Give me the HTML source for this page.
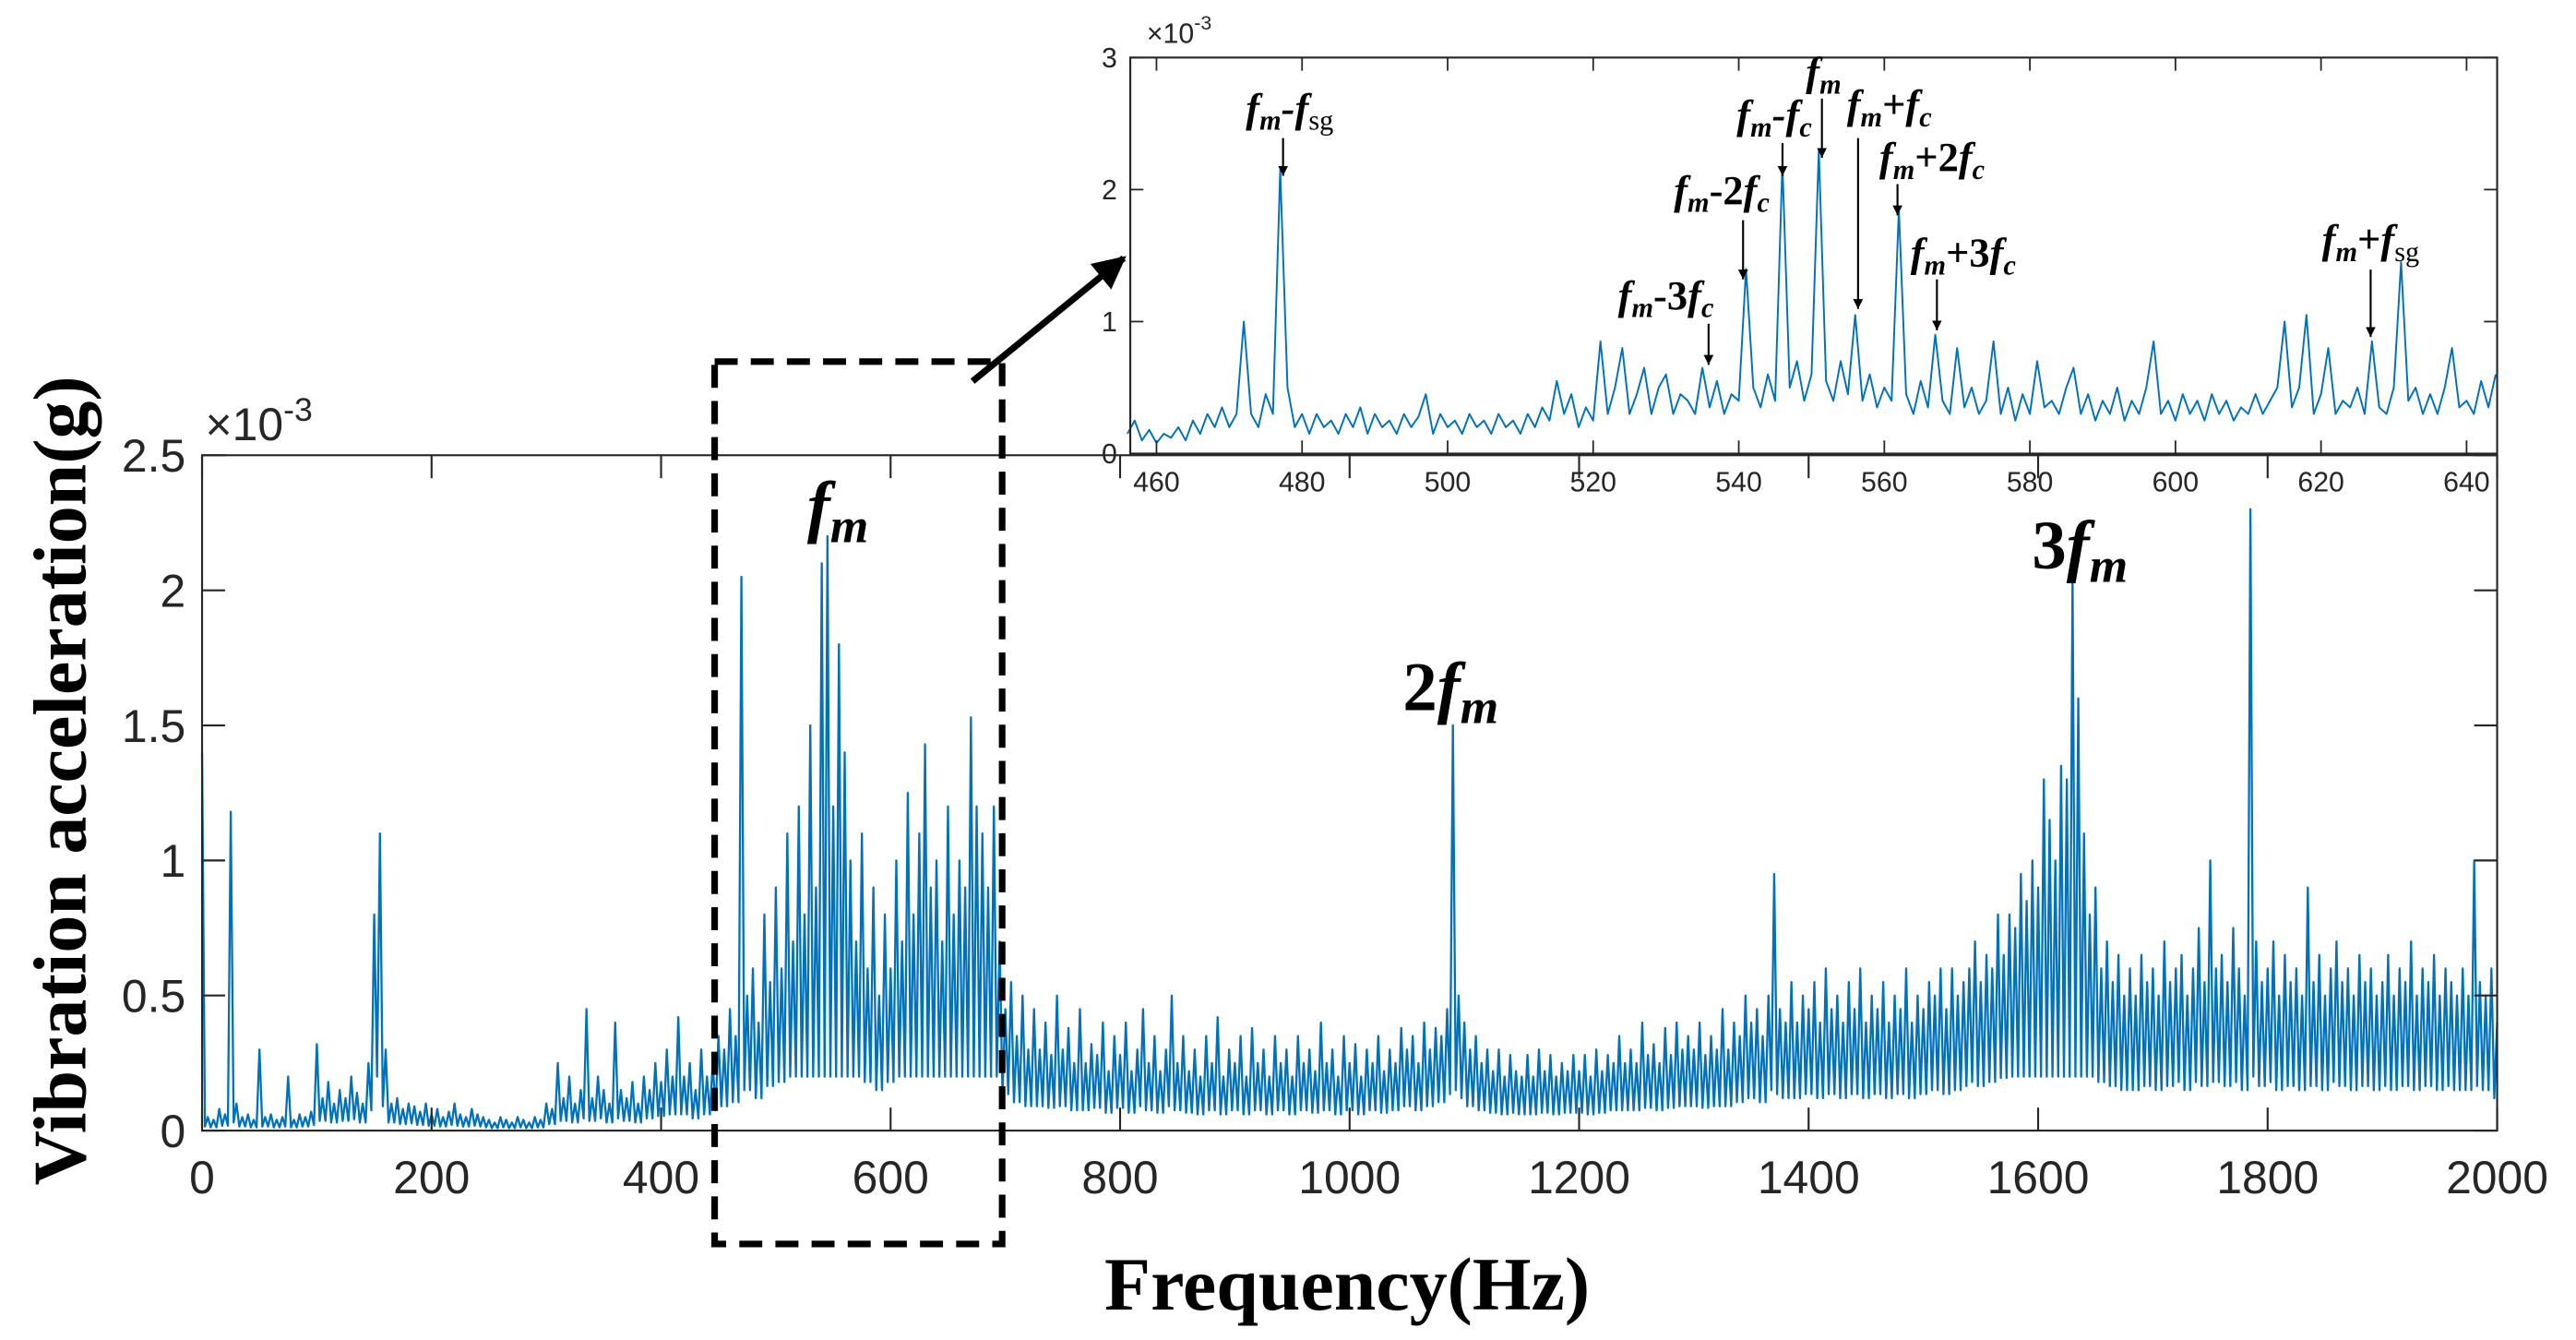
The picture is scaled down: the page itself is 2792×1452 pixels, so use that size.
<!DOCTYPE html>
<html><head><meta charset="utf-8">
<style>
html,body{margin:0;padding:0;background:#fff;}
svg{display:block;}
.tk{font-family:"Liberation Sans",Arial,sans-serif;fill:#262626;}
.ann{font-family:"Liberation Serif","Times New Roman",serif;font-weight:bold;font-style:italic;fill:#000;}
.ttl{font-family:"Liberation Serif","Times New Roman",serif;font-weight:bold;fill:#000;}
</style></head>
<body>
<svg id="chart" width="2792" height="1452" viewBox="0 0 1568 815.4" xmlns="http://www.w3.org/2000/svg">
<rect x="0" y="0" width="1568" height="815.4" fill="#fff"/>
<g id="main"></g>
<g id="inset"></g>
<g id="over"></g>
</svg>
<script>
// ---- main spectrum data (x10^-3 g), 5 Hz steps from 0 Hz ----
const mainStart = 0;
const mainStep = 5;
const mainValues = [
1.4,0.05,0.04,0.08,0.06,1.18,0.1,0.05,0.06,0.04,0.3,0.05,0.06,0.04,0.05,0.2,0.04,0.06,0.05,0.07,
0.32,0.12,0.18,0.1,0.15,0.12,0.2,0.14,0.1,0.25,0.8,1.1,0.3,0.1,0.12,0.08,0.1,0.09,0.07,0.1,
0.06,0.08,0.05,0.07,0.1,0.06,0.05,0.08,0.06,0.05,0.04,0.03,0.05,0.04,0.03,0.05,0.04,0.03,0.05,0.04,
0.1,0.08,0.25,0.12,0.2,0.1,0.15,0.45,0.12,0.2,0.15,0.1,0.4,0.15,0.12,0.18,0.1,0.2,0.15,0.25,
0.18,0.3,0.2,0.42,0.2,0.25,0.15,0.3,0.2,0.25,0.35,0.3,0.45,0.35,2.05,0.5,0.6,0.4,0.8,0.55,
0.9,0.6,1.1,0.7,1.2,0.8,1.5,0.9,2.1,2.2,1.2,1.8,1.4,1.0,0.7,1.1,0.6,0.9,0.5,0.8,
0.6,1.0,0.7,1.25,0.8,1.1,1.43,0.9,1.0,0.7,1.2,0.8,1.0,0.9,1.53,1.2,1.1,0.9,1.2,0.7,
0.45,0.55,0.35,0.5,0.3,0.45,0.3,0.4,0.28,0.5,0.3,0.38,0.25,0.45,0.25,0.32,0.28,0.4,0.22,0.35,
0.28,0.4,0.22,0.3,0.45,0.25,0.35,0.22,0.3,0.5,0.25,0.35,0.22,0.3,0.2,0.35,0.25,0.42,0.2,0.3,
0.25,0.35,0.2,0.38,0.25,0.3,0.2,0.35,0.25,0.3,0.2,0.35,0.25,0.3,0.22,0.4,0.25,0.3,0.2,0.35,
0.25,0.32,0.2,0.3,0.25,0.35,0.22,0.3,0.25,0.38,0.3,0.35,0.25,0.4,0.3,0.38,0.35,0.45,1.5,0.5,
0.4,0.3,0.35,0.25,0.3,0.22,0.3,0.2,0.28,0.22,0.2,0.28,0.2,0.3,0.22,0.28,0.2,0.25,0.22,0.28,
0.22,0.28,0.2,0.3,0.22,0.28,0.25,0.35,0.25,0.3,0.25,0.4,0.28,0.32,0.25,0.38,0.28,0.4,0.3,0.35,
0.3,0.4,0.28,0.35,0.3,0.45,0.3,0.4,0.35,0.5,0.4,0.45,0.35,0.5,0.95,0.45,0.4,0.55,0.4,0.5,
0.45,0.55,0.4,0.6,0.45,0.5,0.4,0.55,0.45,0.6,0.4,0.5,0.45,0.55,0.4,0.5,0.45,0.6,0.4,0.5,
0.45,0.55,0.5,0.6,0.45,0.6,0.5,0.55,0.6,0.7,0.55,0.65,0.6,0.8,0.65,0.8,0.75,0.95,0.85,1.0,
0.9,1.3,1.15,1.0,1.35,1.3,2.05,1.6,1.1,0.8,0.9,0.6,0.7,0.55,0.65,0.5,0.6,0.5,0.65,0.55,
0.6,0.5,0.7,0.55,0.6,0.65,0.5,0.6,0.75,0.55,1.0,0.6,0.65,0.55,0.75,0.6,0.5,2.3,0.7,0.55,
0.6,0.7,0.5,0.65,0.55,0.6,0.5,0.9,0.55,0.65,0.5,0.6,0.7,0.55,0.6,0.5,0.65,0.55,0.6,0.5,
0.55,0.65,0.5,0.6,0.55,0.7,0.5,0.6,0.55,0.65,0.5,0.6,0.55,0.5,0.6,0.5,1.0,0.55,0.5,0.6,
0.4];
const mainXTicks = [0,200,400,600,800,1000,1200,1400,1600,1800,2000];
const mainYTicks = [0,0.5,1,1.5,2,2.5];
const mainYTickLabels = ["0","0.5","1","1.5","2","2.5"];

// ---- inset spectrum data (x10^-3 g), 1 Hz steps from 456 Hz ----
const insetStart = 456;
const insetStep = 1;
const insetValues = [
0.15,0.25,0.1,0.18,0.08,0.15,0.12,0.2,0.1,0.25,
0.15,0.3,0.2,0.35,0.2,0.3,1.0,0.3,0.2,0.45,
0.3,2.15,0.5,0.2,0.3,0.15,0.3,0.2,0.25,0.15,
0.3,0.2,0.35,0.15,0.3,0.2,0.25,0.15,0.3,0.2,
0.28,0.45,0.15,0.3,0.2,0.25,0.15,0.3,0.2,0.25,
0.15,0.3,0.2,0.25,0.15,0.3,0.2,0.35,0.25,0.55,
0.3,0.45,0.2,0.35,0.25,0.85,0.3,0.5,0.8,0.3,
0.45,0.65,0.3,0.5,0.6,0.3,0.45,0.4,0.3,0.65,
0.35,0.55,0.3,0.45,0.4,1.4,0.5,0.35,0.6,0.4,
2.2,0.5,0.7,0.4,0.6,2.3,0.55,0.4,0.7,0.45,
1.05,0.4,0.6,0.35,0.5,0.4,1.85,0.45,0.3,0.55,
0.35,0.9,0.4,0.3,0.8,0.35,0.5,0.3,0.4,0.85,
0.3,0.5,0.25,0.45,0.3,0.7,0.35,0.4,0.3,0.5,
0.65,0.3,0.45,0.25,0.4,0.3,0.5,0.25,0.4,0.3,
0.5,0.85,0.3,0.4,0.25,0.45,0.3,0.4,0.25,0.45,
0.3,0.4,0.25,0.35,0.3,0.45,0.3,0.4,0.5,1.0,
0.35,0.5,1.05,0.3,0.45,0.8,0.3,0.4,0.35,0.5,
0.3,0.85,0.35,0.3,0.5,1.45,0.4,0.5,0.3,0.45,
0.3,0.5,0.8,0.35,0.4,0.3,0.55,0.35,0.6,0.4];
const insetXTicks = [460,480,500,520,540,560,580,600,620,640];
const insetYTicks = [0,1,2,3];

const NS = "http://www.w3.org/2000/svg";
function mk(parent, tag, attrs, text){
  const e = document.createElementNS(NS, tag);
  for (const k in attrs) e.setAttribute(k, attrs[k]);
  if (text !== undefined) e.textContent = text;
  parent.appendChild(e);
  return e;
}

// ===== main axes =====
const M = {l:123, r:1520, t:277, b:688, x0:0, x1:2000, y0:0, y1:2.5};
const mx = v => M.l + (v - M.x0) / (M.x1 - M.x0) * (M.r - M.l);
const my = v => M.b - (v - M.y0) / (M.y1 - M.y0) * (M.b - M.t);
const gm = document.getElementById('main');

let pts = [];
mainValues.forEach((v, i) => {
  const f = mainStart + i * mainStep;
  pts.push(mx(f).toFixed(2) + ',' + my(v).toFixed(2));
  if (i < mainValues.length - 1) {
    const nv = mainValues[i + 1];
    const low = Math.min(v, nv) * 0.3;
    pts.push(mx(f + mainStep / 2).toFixed(2) + ',' + my(Math.min(low, 0.2)).toFixed(2));
  }
});
const ml = mk(gm, 'polyline', {points: pts.join(' '), fill:'none', stroke:'#0072BD', 'stroke-width':1.3, 'stroke-linejoin':'round'});



const mbox = mk(gm, 'rect', {x:M.l, y:M.t, width:M.r-M.l, height:M.b-M.t, fill:'none', stroke:'#262626', 'stroke-width':1.2});



mainXTicks.forEach(t => {
  const x = mx(t);
  mk(gm, 'line', {x1:x, x2:x, y1:M.b, y2:M.b-14, stroke:'#262626', 'stroke-width':1.2});
  mk(gm, 'line', {x1:x, x2:x, y1:M.t, y2:M.t+14, stroke:'#262626', 'stroke-width':1.2});
  const tl = mk(gm, 'text', {x:x, y:M.b+38, 'text-anchor':'middle', 'font-size':28, class:'tk'}, String(t));
  
  
});
mainYTicks.forEach((t, i) => {
  const y = my(t);
  mk(gm, 'line', {x1:M.l, x2:M.l+14, y1:y, y2:y, stroke:'#262626', 'stroke-width':1.2});
  mk(gm, 'line', {x1:M.r, x2:M.r-14, y1:y, y2:y, stroke:'#262626', 'stroke-width':1.2});
  const tl = mk(gm, 'text', {x:M.l-10, y:y+10, 'text-anchor':'end', 'font-size':28, class:'tk'}, mainYTickLabels[i]);
  
  
});
const mexp = mk(gm, 'text', {x:125, y:268, 'font-size':28, class:'tk'});
mexp.innerHTML = '×10<tspan dy="-12" font-size="20">-3</tspan>';



const xt = mk(gm, 'text', {x:820, y:797, 'text-anchor':'middle', 'font-size':46, class:'ttl'}, 'Frequency(Hz)');


const yt = mk(gm, 'text', {x:0, y:0, 'text-anchor':'middle', 'font-size':46, class:'ttl', transform:'translate(52,475) rotate(-90)'}, 'Vibration acceleration(g)');



// ===== inset axes =====
const I = {l:688, r:1520, t:35, b:276, x0:456.4, x1:644.2, y0:0, y1:3};
const ix = v => I.l + (v - I.x0) / (I.x1 - I.x0) * (I.r - I.l);
const iy = v => I.b - (v - I.y0) / (I.y1 - I.y0) * (I.b - I.t);
const gi = document.getElementById('inset');
mk(gi, 'rect', {x:I.l, y:I.t, width:I.r-I.l, height:I.b-I.t, fill:'#fff', stroke:'none'});
let ipts = [];
insetValues.forEach((v, i) => {
  const f = insetStart + i * insetStep;
  if (f > I.x1) return;
  ipts.push(ix(f).toFixed(2) + ',' + iy(v).toFixed(2));
});
const il = mk(gi, 'polyline', {points: ipts.join(' '), fill:'none', stroke:'#0072BD', 'stroke-width':1.1, 'stroke-linejoin':'round'});


const ibox = mk(gi, 'rect', {x:I.l, y:I.t, width:I.r-I.l, height:I.b-I.t, fill:'none', stroke:'#262626', 'stroke-width':1.2});


insetXTicks.forEach(t => {
  const x = ix(t);
  mk(gi, 'line', {x1:x, x2:x, y1:I.b, y2:I.b-8, stroke:'#262626', 'stroke-width':1});
  mk(gi, 'line', {x1:x, x2:x, y1:I.t, y2:I.t+8, stroke:'#262626', 'stroke-width':1});
  const tl = mk(gi, 'text', {x:x, y:I.b+23, 'text-anchor':'middle', 'font-size':17, class:'tk'}, String(t));
  
  
});
insetYTicks.forEach(t => {
  const y = iy(t);
  mk(gi, 'line', {x1:I.l, x2:I.l+8, y1:y, y2:y, stroke:'#262626', 'stroke-width':1});
  mk(gi, 'line', {x1:I.r, x2:I.r-8, y1:y, y2:y, stroke:'#262626', 'stroke-width':1});
  const tl = mk(gi, 'text', {x:I.l-8, y:y+6, 'text-anchor':'end', 'font-size':17, class:'tk'}, String(t));
  
  
});
const iexp = mk(gi, 'text', {x:698, y:26, 'font-size':17, class:'tk'});
iexp.innerHTML = '×10<tspan dy="-8" font-size="12">-3</tspan>';



// ===== annotations =====
const go = document.getElementById('over');
mk(go, 'defs', {}).innerHTML = '<marker id="ah" viewBox="0 0 10 10" refX="10" refY="5" markerWidth="5" markerHeight="9" orient="auto" markerUnits="strokeWidth"><path d="M0,0 L10,5 L0,10 z" fill="#000"/></marker><marker id="ah2" viewBox="0 0 10 10" refX="9" refY="5" markerWidth="5" markerHeight="5" orient="auto"><path d="M0,0 L10,5 L0,10 z" fill="#000"/></marker>';

const db = mk(go, 'rect', {x:435, y:220, width:175, height:537, fill:'none', stroke:'#000', 'stroke-width':4, 'stroke-dasharray':'14,8'});


const za = mk(go, 'line', {x1:592, y1:232, x2:684, y2:157, stroke:'#000', 'stroke-width':4, 'marker-end':'url(#ah2)'});



function lab(x, y, size, html, name){
  const t = mk(go, 'text', {x:x, y:y, 'text-anchor':'middle', 'font-size':size, class:'ann'});
  t.innerHTML = html;
  
  
}
lab(510, 322, 42, 'f<tspan font-size="30" dy="8">m</tspan>', 'fm-label');
lab(883, 432, 42, '<tspan font-style="normal">2</tspan>f<tspan font-size="30" dy="8">m</tspan>', '2fm-label');
lab(1266, 346, 42, '<tspan font-style="normal">3</tspan>f<tspan font-size="30" dy="8">m</tspan>', '3fm-label');

const s = 25, ss = 17;
const annos = [
  [785, 74, 'f<tspan font-size="'+ss+'" dy="5">m</tspan><tspan dy="-5">-</tspan>f<tspan font-style="normal" font-weight="normal" font-size="'+ss+'" dy="5">sg</tspan>', 781, 84, 107, 'fm-fsg-label'],
  [1014, 188, 'f<tspan font-size="'+ss+'" dy="5">m</tspan><tspan dy="-5" font-style="normal">-3</tspan>f<tspan font-size="'+ss+'" dy="5">c</tspan>', 1040, 197, 222, 'fm-3fc-label'],
  [1048, 124, 'f<tspan font-size="'+ss+'" dy="5">m</tspan><tspan dy="-5" font-style="normal">-2</tspan>f<tspan font-size="'+ss+'" dy="5">c</tspan>', 1061, 134, 170, 'fm-2fc-label'],
  [1080, 78, 'f<tspan font-size="'+ss+'" dy="5">m</tspan><tspan dy="-5">-</tspan>f<tspan font-size="'+ss+'" dy="5">c</tspan>', 1085, 87, 107, 'fm-fc-label'],
  [1110, 52, 'f<tspan font-size="'+ss+'" dy="5">m</tspan>', 1109, 60, 96, 'fm-inset-label'],
  [1150, 72, 'f<tspan font-size="'+ss+'" dy="5">m</tspan><tspan dy="-5" font-style="normal">+</tspan>f<tspan font-size="'+ss+'" dy="5">c</tspan>', 1131, 84, 188, 'fm+fc-label'],
  [1176, 104, 'f<tspan font-size="'+ss+'" dy="5">m</tspan><tspan dy="-5" font-style="normal">+2</tspan>f<tspan font-size="'+ss+'" dy="5">c</tspan>', 1155, 112, 131, 'fm+2fc-label'],
  [1195, 162, 'f<tspan font-size="'+ss+'" dy="5">m</tspan><tspan dy="-5" font-style="normal">+3</tspan>f<tspan font-size="'+ss+'" dy="5">c</tspan>', 1179, 170, 201, 'fm+3fc-label'],
  [1443, 154, 'f<tspan font-size="'+ss+'" dy="5">m</tspan><tspan dy="-5" font-style="normal">+</tspan>f<tspan font-style="normal" font-weight="normal" font-size="'+ss+'" dy="5">sg</tspan>', 1443, 164, 205, 'fm+fsg-label']
];
annos.forEach(a => {
  const t = mk(go, 'text', {x:a[0], y:a[1], 'text-anchor':'middle', 'font-size':s, class:'ann'});
  t.innerHTML = a[2];
  
  
  const ln = mk(go, 'line', {x1:a[3], x2:a[3], y1:a[4], y2:a[5], stroke:'#000', 'stroke-width':1.2, 'marker-end':'url(#ah)'});
  
  
});
</script>
</body></html>
